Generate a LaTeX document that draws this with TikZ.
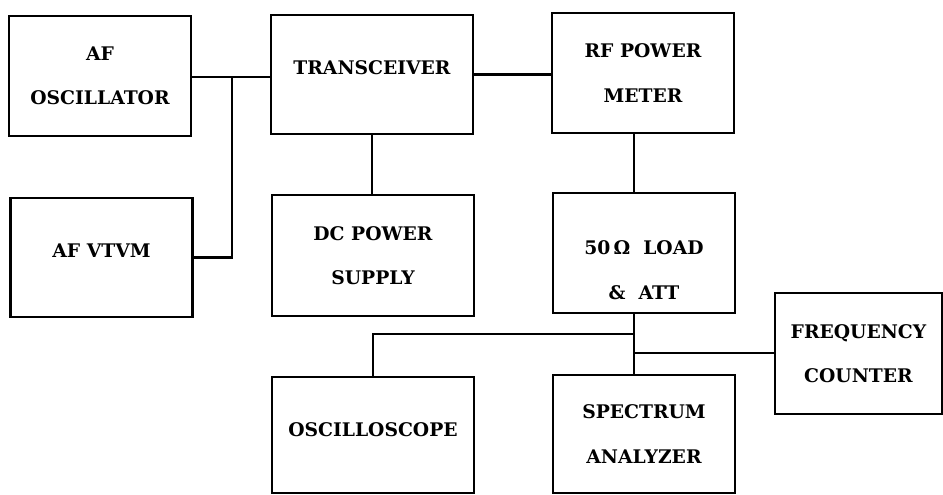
\documentclass[tikz,border=0pt]{standalone}
\usepackage{fontspec}
\setmainfont{DejaVu Serif}
\usepackage{tikz}

\tikzset{
  box/.style={draw, line width=2pt, minimum height=3.6cm, align=center,
    font=\bfseries\fontsize{16}{38}\selectfont},
  nbox/.style={box, minimum width=5.46cm},
  wbox/.style={box, minimum width=6.06cm},
  uptext/.style={text depth=0.42cm},
  wire/.style={line width=2pt}
}

\begin{document}
\begin{tikzpicture}[x=0.03cm, y=-0.03cm]

\useasboundingbox (0,0) rectangle (943,494);

\node[nbox] (afosc) at (100,76) {AF\\OSCILLATOR};
\node[nbox, uptext, minimum height=3.57cm] (afvtvm) at (101.5,257.5) {AF VTVM};
\node[wbox, uptext, minimum height=3.57cm] (trx) at (372,74.5) {TRANSCEIVER};
\node[wbox, minimum height=3.63cm] (dcps) at (373,255.5) {DC POWER\\SUPPLY};
\node[nbox] (rfpm) at (643,73) {RF POWER\\METER};
\node[nbox, text height=2.79cm] (load) at (644,253) {50\,Ω\ \ LOAD\\\&\ \ ATT};
\node[box, minimum width=5.01cm, minimum height=3.63cm] (freq) at (858.5,353.5) {FREQUENCY\\COUNTER};
\node[wbox, minimum height=3.48cm, text depth=0.3cm] (osc) at (373,435) {OSCILLOSCOPE};
\node[nbox, minimum height=3.54cm] (spec) at (644,434) {SPECTRUM\\ANALYZER};

% junctions
\coordinate (jaf) at (232,77);
\coordinate (jbus) at (634,334);
\coordinate (jfc) at (634,353);

\draw[wire] (afosc.east |- jaf) -- (trx.west |- jaf);
\draw[wire] (afvtvm.east) -| (jaf);
\draw[wire] (trx.east) -- (trx.east -| rfpm.west);
\draw[wire] (trx.south) -- (trx.south |- dcps.north);
\draw[wire] (rfpm.south -| jbus) -- (load.north -| jbus);
\draw[wire] (load.south -| jbus) -- (spec.north -| jbus);
\draw[wire] (jbus) -| (osc.north);
\draw[wire] (jfc) -- (jfc -| freq.west);

\end{tikzpicture}
\end{document}
